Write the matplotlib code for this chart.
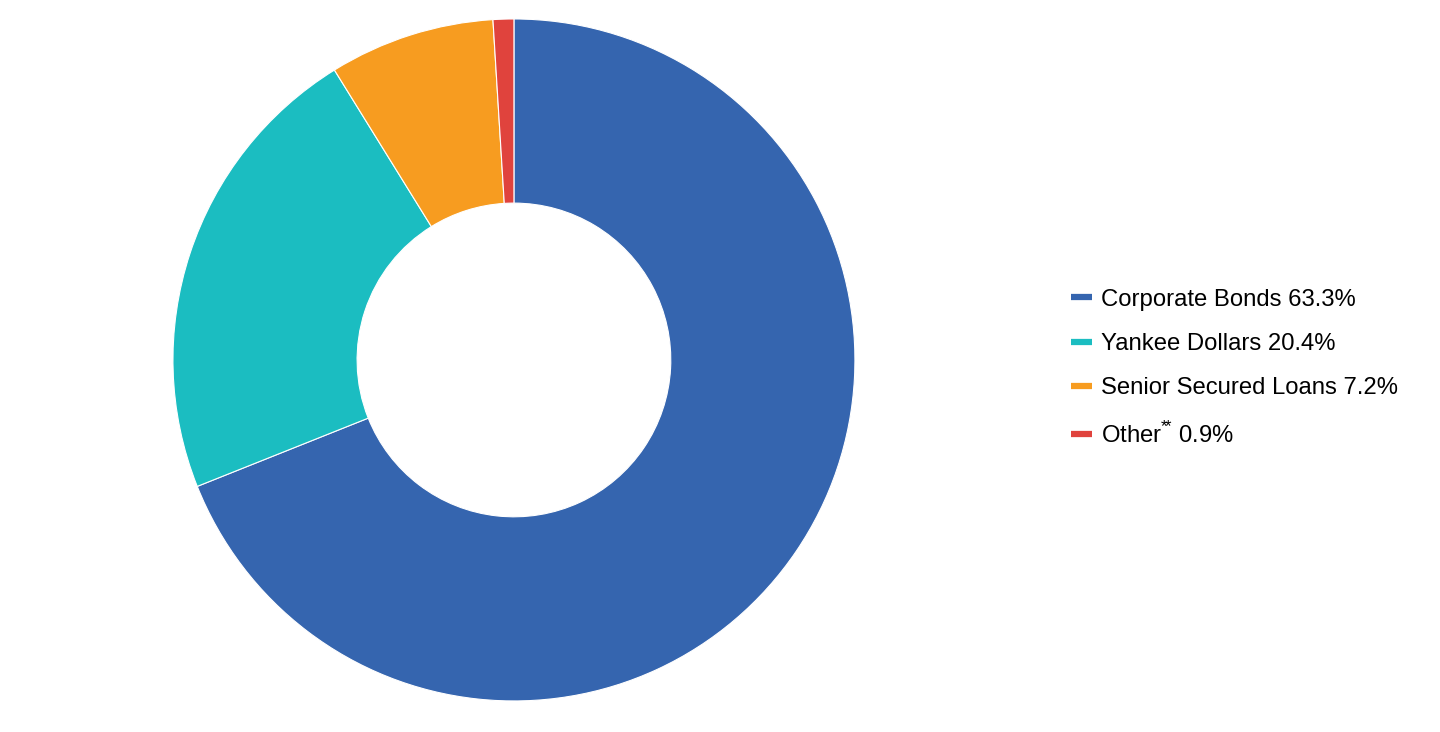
import matplotlib
matplotlib.use("Agg")
import matplotlib.pyplot as plt
from matplotlib.lines import Line2D

plt.rcParams['font.family'] = ['Liberation Sans', 'DejaVu Sans']
plt.rcParams['mathtext.fontset'] = 'custom'
plt.rcParams['mathtext.rm'] = 'Liberation Sans'

labels = ['Corporate Bonds', 'Yankee Dollars', 'Senior Secured Loans', r'Other$^{\mathrm{*}\!\mathrm{*}}$']
values = [63.3, 20.4, 7.2, 0.9]
colors = ['#3565AF', '#1BBDC1', '#F79C20', '#E0433D']

fig = plt.figure(figsize=(14.4, 7.32), dpi=100)
ax = fig.add_axes([0.1201, 0.0424, 0.4736, 0.9317])
ax.pie(values, colors=colors, startangle=90, counterclock=False, radius=1,
       wedgeprops=dict(width=0.54, edgecolor='white', linewidth=0.8))
ax.set_xlim(-1, 1)
ax.set_ylim(-1, 1)
ax.set_aspect('equal')
ax.axis('off')

handles = [Line2D([], [], color=c, linewidth=4.5, solid_capstyle='butt') for c in colors]
texts = [f'{l} {v}%' for l, v in zip(labels, values)]
fig.legend(handles, texts, loc='center left', bbox_to_anchor=(0.729, 0.497),
           frameon=False, fontsize=17.2, handlelength=0.88, handletextpad=0.38,
           labelspacing=0.94)

fig.savefig('out.png', dpi=100)
